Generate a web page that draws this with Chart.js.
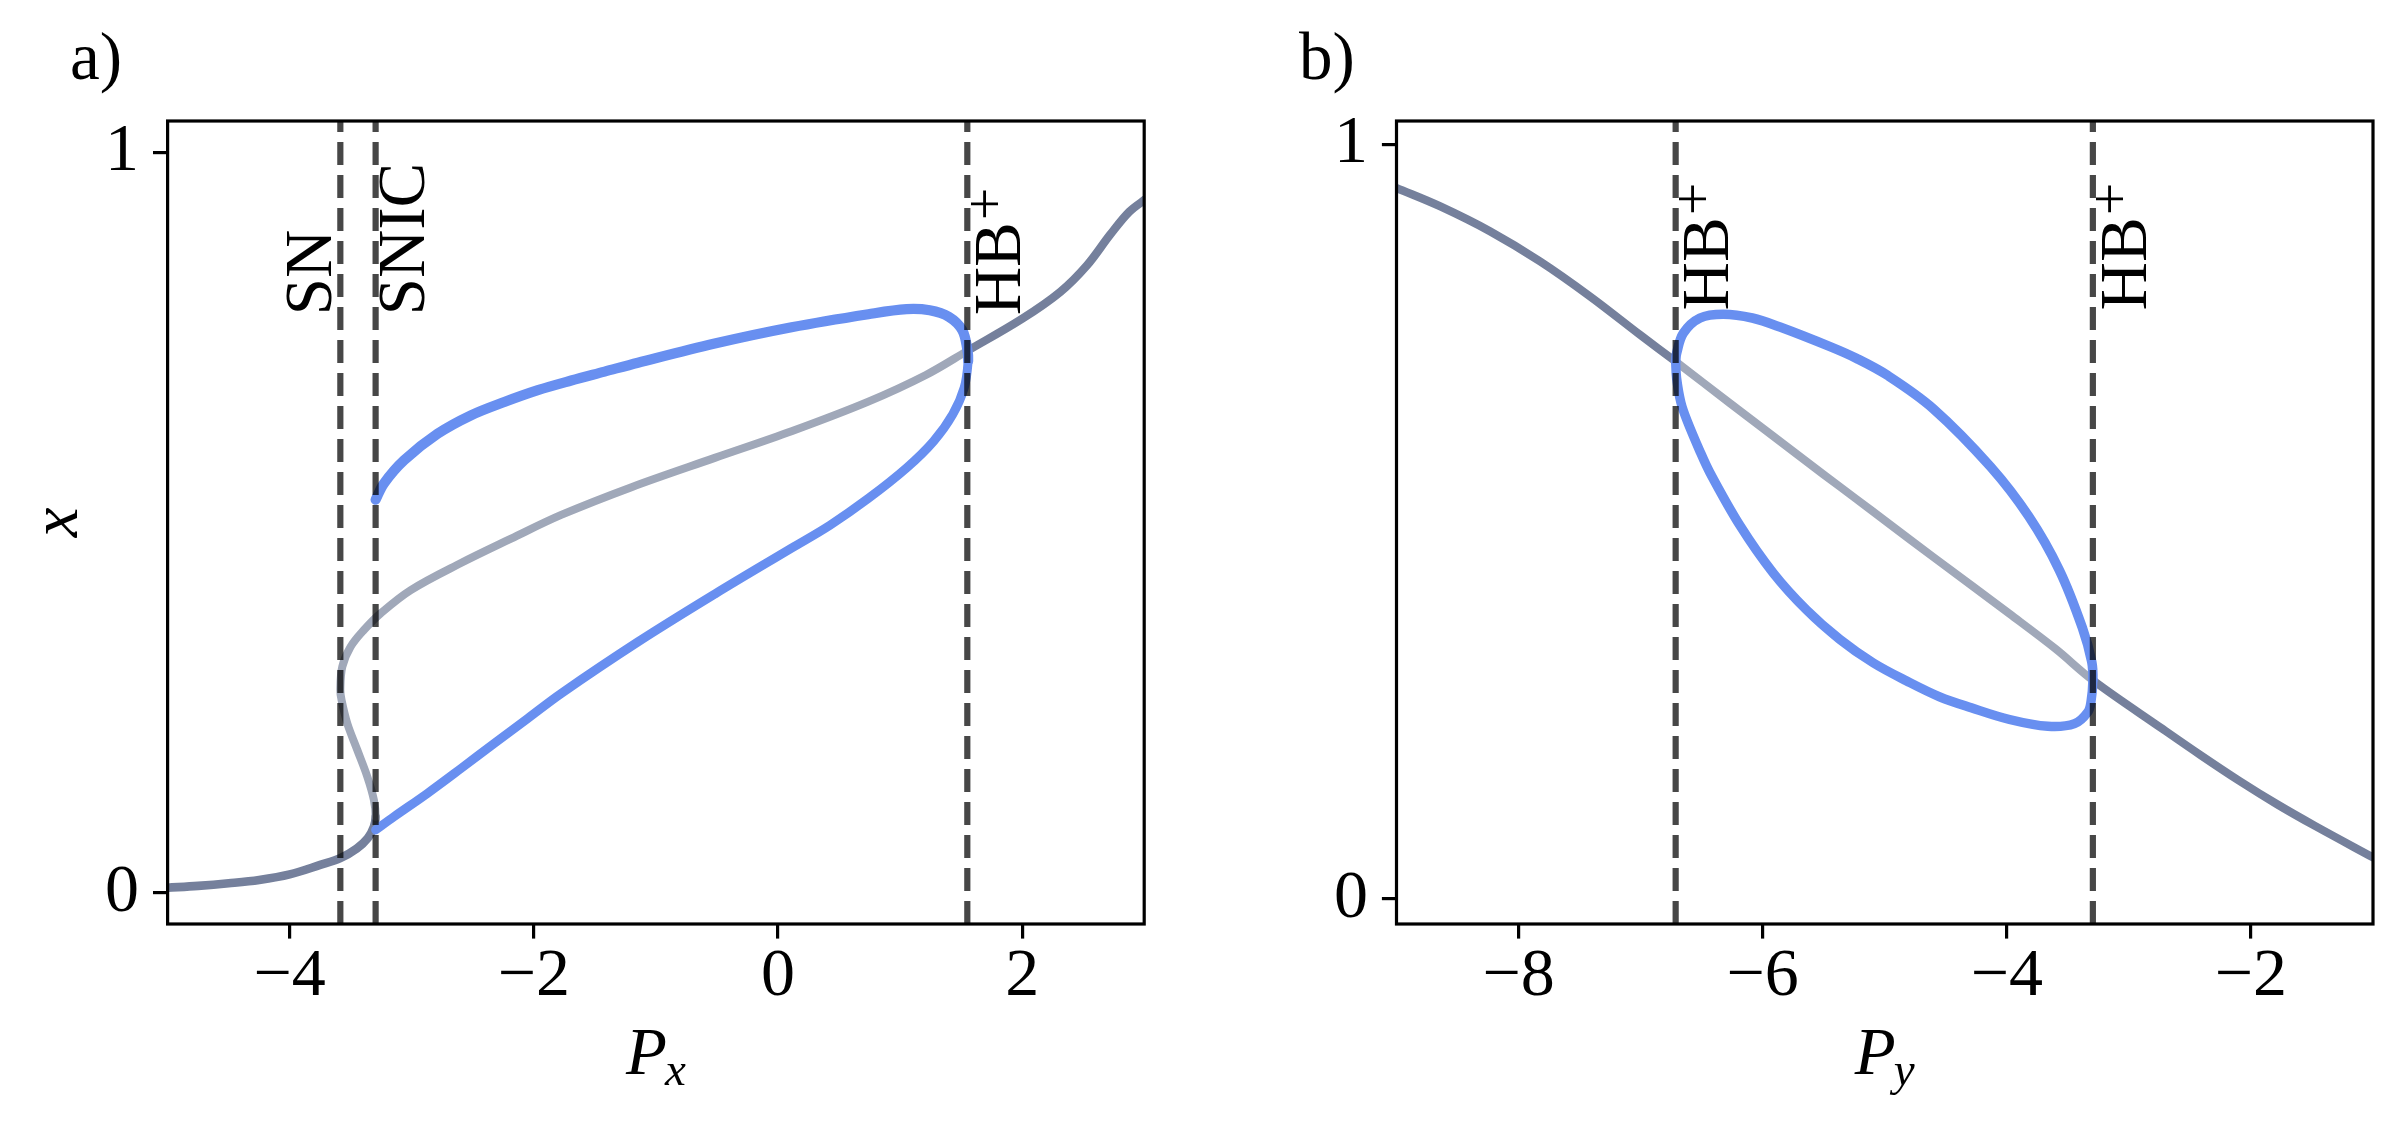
<!DOCTYPE html>
<html>
<head>
<meta charset="utf-8">
<script src="https://cdn.jsdelivr.net/npm/chart.js@4.4.1/dist/chart.umd.min.js"></script>
<style>
  html, body { margin: 0; padding: 0; background: #ffffff; }
  #wrap { position: relative; width: 2403px; height: 1124px; overflow: hidden; background: #ffffff; }
  canvas { position: absolute; top: 0; }
  #ca { left: 0; width: 1200px; height: 1124px; }
  #cb { left: 1200px; width: 1203px; height: 1124px; }
</style>
</head>
<body>
<div id="wrap">
  <canvas id="ca" width="1200" height="1124"></canvas>
  <canvas id="cb" width="1203" height="1124"></canvas>
</div>
<script>
// ---------------- DATA: panel a (x vs P_x) ----------------
const aTickP = [-4, -2, 0, 2];
const aTickPLabels = ['\u22124', '\u22122', '0', '2'];
const aRangeP = [-5, 3];
const aRangeX = [-0.042, 1.0425];

// lower stable equilibrium branch (dark)
const aLowP = [-5.0, -4.75, -4.5, -4.25, -4.0, -3.75, -3.585, -3.45, -3.36, -3.31, -3.296];
const aLowX = [0.007, 0.0095, 0.013, 0.0175, 0.025, 0.0378, 0.047, 0.060, 0.074, 0.0895, 0.103];
// unstable equilibrium branch (light)
const aMidP = [-3.296, -3.31, -3.364, -3.446, -3.528, -3.575, -3.585, -3.569, -3.501, -3.392, -3.255, -3.008, -2.597, -2.186, -1.776, -1.2, -0.518, 0.111, 0.740, 1.212, 1.551];
const aMidX = [0.103, 0.1255, 0.157, 0.193, 0.229, 0.2605, 0.274, 0.3054, 0.3324, 0.355, 0.3775, 0.409, 0.4455, 0.4785, 0.5105, 0.548, 0.5875, 0.6235, 0.6635, 0.6995, 0.732];
// upper stable equilibrium branch (dark)
const aHighP = [1.551, 2.0, 2.312, 2.532, 2.721, 2.878, 3.02];
const aHighX = [0.732, 0.7754, 0.8116, 0.8477, 0.889, 0.920, 0.938];
// limit cycle: max branch and min branch
const aCycUpP = [-3.296, -3.228, -3.063, -2.789, -2.515, -2.242, -1.967, -1.694, -1.42, -1.147, -0.518, 0.111, 0.740, 1.054, 1.243, 1.400, 1.510, 1.551, 1.558];
const aCycUpX = [0.531, 0.553, 0.5843, 0.620, 0.645, 0.663, 0.679, 0.692, 0.704, 0.716, 0.742, 0.764, 0.7816, 0.7884, 0.7868, 0.778, 0.760, 0.734, 0.7186];
const aCycLoP = [1.558, 1.526, 1.432, 1.275, 1.054, 0.740, 0.426, 0.111, -0.518, -1.147, -1.776, -2.049, -2.324, -2.597, -2.871, -3.145, -3.296];
const aCycLoX = [0.7186, 0.6825, 0.6464, 0.610, 0.574, 0.5327, 0.4966, 0.4656, 0.4036, 0.339, 0.2694, 0.2358, 0.202, 0.168, 0.1345, 0.103, 0.085];
// bifurcation lines
const aLineP = [-3.585, -3.296, 1.551];
const aLineText = ['SN', 'SNIC', 'HB'];
const aLineSup = ['', '', '+'];
const aLineSide = ['left', 'right', 'right'];

// ---------------- DATA: panel b (x vs P_y) ----------------
const bTickP = [-8, -6, -4, -2];
const bTickPLabels = ['\u22128', '\u22126', '\u22124', '\u22122'];
const bRangeP = [-9, -1];
const bRangeX = [-0.033, 1.031];

const bLeftP = [-9.0, -8.643, -8.233, -7.824, -7.414, -7.005, -6.713];
const bLeftX = [0.9423, 0.918, 0.8848, 0.845, 0.7985, 0.7477, 0.7123];
const bMidP = [-6.713, -6.268, -5.918, -5.504, -5.232, -4.978, -4.604, -3.978, -3.6, -3.295];
const bMidX = [0.7123, 0.657, 0.614, 0.563, 0.530, 0.499, 0.4535, 0.378, 0.3315, 0.290];
const bRightP = [-3.295, -2.724, -2.41, -2.098, -1.784, -1.47, -1.0];
const bRightX = [0.290, 0.2255, 0.1905, 0.157, 0.1255, 0.0965, 0.0552];
const bCycUpP = [-6.713, -6.705, -6.65, -6.513, -6.323, -6.085, -5.858, -5.448, -5.232, -4.978, -4.604, -4.134, -3.82, -3.57, -3.382, -3.304, -3.295];
const bCycUpX = [0.7123, 0.7234, 0.750, 0.770, 0.775, 0.770, 0.758, 0.732, 0.7165, 0.694, 0.650, 0.573, 0.507, 0.436, 0.360, 0.3143, 0.290];
const bCycLoP = [-3.295, -3.31, -3.336, -3.445, -3.664, -3.978, -4.291, -4.55, -4.82, -5.094, -5.367, -5.640, -5.913, -6.186, -6.432, -6.513, -6.622, -6.67, -6.705, -6.713];
const bCycLoX = [0.290, 0.262, 0.248, 0.2325, 0.229, 0.238, 0.2535, 0.268, 0.289, 0.313, 0.344, 0.383, 0.432, 0.495, 0.565, 0.593, 0.635, 0.658, 0.690, 0.7123];
const bLineP = [-6.713, -3.295];
const bLineText = ['HB', 'HB'];
const bLineSup = ['+', '+'];
const bLineSide = ['right', 'right'];

const tickX = [0, 1];
const tickXLabels = ['0', '1'];
const labelX = 0.780;

// ---------------- STYLE ----------------
const FONT = '"Liberation Serif", "DejaVu Serif", serif';
const TICK_FS = 68, LABEL_FS = 67, SUP_FS = 58, SUB_FS = 47;
const DARK = 'rgb(117,128,156)';
const LIGHT = 'rgb(160,168,185)';
const BLUE = 'rgb(104,143,240)';
const DASH = 'rgba(0,0,0,0.72)';

function joinParts(parts) {
  const data = [], ends = [];
  parts.forEach((pt, k) => {
    pt[0].forEach((p, i) => {
      if (k > 0 && i === 0) return;
      data.push({ x: p, y: pt[1][i] });
    });
    ends.push(data.length - 1);
  });
  return { data, ends };
}
function partOf(ends, idx) {
  let k = 0;
  while (k < ends.length - 1 && idx >= ends[k]) k++;
  return k;
}
function curveDS(parts, colors, widths, order) {
  const J = joinParts(parts);
  return {
    data: J.data, borderColor: colors[0], borderWidth: widths[0],
    pointRadius: 0, pointHoverRadius: 0, tension: 0.35, fill: false, clip: 0, order,
    borderCapStyle: 'round', borderJoinStyle: 'round',
    segment: {
      borderColor: c => colors[partOf(J.ends, c.p0DataIndex)],
      borderWidth: c => widths[partOf(J.ends, c.p0DataIndex)]
    }
  };
}
function vlineDS(p, yr) {
  return {
    data: [{ x: p, y: yr[0] }, { x: p, y: yr[1] }],
    borderColor: DASH, borderWidth: 6.2, borderDash: [23, 10], borderCapStyle: 'butt',
    pointRadius: 0, pointHoverRadius: 0, tension: 0, fill: false, clip: 0, order: 1
  };
}

function drawVLabel(ctx, xPix, yPix, text, sup, side) {
  ctx.save();
  ctx.font = LABEL_FS + 'px ' + FONT;
  const m = ctx.measureText(text);
  let extent = m.actualBoundingBoxAscent;
  let raise = 0;
  if (sup) {
    ctx.font = SUP_FS + 'px ' + FONT;
    const pm = ctx.measureText(sup);
    const mid = (pm.actualBoundingBoxAscent - pm.actualBoundingBoxDescent) / 2;
    raise = 35.8 - mid;
    extent = Math.max(extent, raise + pm.actualBoundingBoxAscent);
  }
  const base = side === 'right' ? xPix + 3.5 + extent : xPix - 9.5;
  ctx.translate(base, yPix);
  ctx.rotate(-Math.PI / 2);
  ctx.textAlign = 'left';
  ctx.textBaseline = 'alphabetic';
  ctx.fillStyle = '#000';
  ctx.font = LABEL_FS + 'px ' + FONT;
  ctx.fillText(text, 0, 0);
  if (sup) {
    ctx.font = SUP_FS + 'px ' + FONT;
    ctx.fillText(sup, m.width + 2, -raise);
  }
  ctx.restore();
}

const panelText = {
  ca: { letter: 'a)', lineP: aLineP, text: aLineText, sup: aLineSup, side: aLineSide, xMain: 'P', xSub: 'x', yTitle: 'x' },
  cb: { letter: 'b)', lineP: bLineP, text: bLineText, sup: bLineSup, side: bLineSide, xMain: 'P', xSub: 'y', yTitle: '' }
};

const framePlugin = {
  id: 'frameAndLabels',
  afterDatasetsDraw(chart) {
    const ctx = chart.ctx, a = chart.chartArea;
    ctx.save();
    ctx.strokeStyle = '#000';
    ctx.lineWidth = 3.2;
    ctx.strokeRect(a.left, a.top, a.right - a.left, a.bottom - a.top);
    ctx.restore();
  },
  afterDraw(chart) {
    const T = panelText[chart.canvas.id];
    const ctx = chart.ctx, a = chart.chartArea, xs = chart.scales.x, ys = chart.scales.y;
    ctx.save();
    ctx.fillStyle = '#000';
    ctx.font = LABEL_FS + 'px ' + FONT;
    ctx.textAlign = 'left';
    ctx.textBaseline = 'alphabetic';
    ctx.fillText(T.letter, a.left - 97.5, 78.5);
    T.lineP.forEach((p, i) => {
      drawVLabel(ctx, xs.getPixelForValue(p), ys.getPixelForValue(labelX), T.text[i], T.sup[i], T.side[i]);
    });
    ctx.font = 'italic ' + LABEL_FS + 'px ' + FONT;
    const wP = ctx.measureText(T.xMain).width;
    ctx.font = 'italic ' + SUB_FS + 'px ' + FONT;
    const wS = ctx.measureText(T.xSub).width;
    const cx = (a.left + a.right) / 2;
    const x0 = cx - (wP + wS - 2) / 2;
    ctx.font = 'italic ' + LABEL_FS + 'px ' + FONT;
    ctx.fillText(T.xMain, x0, 1073.5);
    ctx.font = 'italic ' + SUB_FS + 'px ' + FONT;
    ctx.fillText(T.xSub, x0 + wP - 2, 1085);
    if (T.yTitle) {
      ctx.save();
      ctx.translate(77, (a.top + a.bottom) / 2);
      ctx.rotate(-Math.PI / 2);
      ctx.textAlign = 'center';
      ctx.font = 'italic ' + LABEL_FS + 'px ' + FONT;
      ctx.fillText(T.yTitle, 0, 0);
      ctx.restore();
    }
    ctx.restore();
  }
};

function makeChart(id, L, rangeP, rangeX, tickP, tickPLabels, datasets) {
  return new Chart(document.getElementById(id), {
    type: 'line',
    data: { datasets },
    options: {
      responsive: false,
      maintainAspectRatio: false,
      animation: false,
      devicePixelRatio: 1,
      events: [],
      layout: { padding: { left: 0, top: L.top, right: L.canvasW - L.right, bottom: 0 } },
      plugins: { legend: { display: false }, tooltip: { enabled: false }, title: { display: false } },
      scales: {
        x: {
          type: 'linear', min: rangeP[0], max: rangeP[1],
          afterFit: s => { s.height = 1124 - L.bottom; },
          afterBuildTicks: s => { s.ticks = tickP.map(v => ({ value: v })); },
          ticks: {
            callback: (v, i) => tickPLabels[i],
            font: { family: FONT, size: TICK_FS, lineHeight: 1 },
            color: '#000', padding: 5, maxRotation: 0, minRotation: 0, autoSkip: false
          },
          grid: { drawOnChartArea: false, drawTicks: true, tickLength: 14.6, tickWidth: 3.2, tickColor: '#000', lineWidth: 3.2, color: '#000' },
          border: { display: false }
        },
        y: {
          type: 'linear', min: rangeX[0], max: rangeX[1],
          afterFit: s => { s.width = L.left; },
          afterBuildTicks: s => { s.ticks = tickX.map(v => ({ value: v })); },
          ticks: {
            callback: (v, i) => tickXLabels[i],
            font: { family: FONT, size: TICK_FS, lineHeight: 1 },
            color: '#000', padding: 14, autoSkip: false
          },
          grid: { drawOnChartArea: false, drawTicks: true, tickLength: 14.6, tickWidth: 3.2, tickColor: '#000', lineWidth: 3.2, color: '#000' },
          border: { display: false }
        }
      }
    },
    plugins: [framePlugin]
  });
}

const dsA = [
  ...aLineP.map(p => vlineDS(p, aRangeX)),
  curveDS([[aCycUpP, aCycUpX], [aCycLoP, aCycLoX]], [BLUE, BLUE], [10.2, 9.0], 2),
  curveDS([[aLowP, aLowX], [aMidP, aMidX], [aHighP, aHighX]], [DARK, LIGHT, DARK], [8.6, 8.0, 8.3], 3)
];
const dsB = [
  ...bLineP.map(p => vlineDS(p, bRangeX)),
  curveDS([[bCycUpP, bCycUpX], [bCycLoP, bCycLoX]], [BLUE, BLUE], [9.6, 9.4], 2),
  curveDS([[bLeftP, bLeftX], [bMidP, bMidX], [bRightP, bRightX]], [DARK, LIGHT, DARK], [8.2, 8.0, 8.2], 3)
];

makeChart('ca', { canvasW: 1200, left: 167.6, right: 1144.2, top: 121, bottom: 924 }, aRangeP, aRangeX, aTickP, aTickPLabels, dsA);
makeChart('cb', { canvasW: 1203, left: 196.5, right: 1173, top: 121, bottom: 924 }, bRangeP, bRangeX, bTickP, bTickPLabels, dsB);
</script>
</body>
</html>
